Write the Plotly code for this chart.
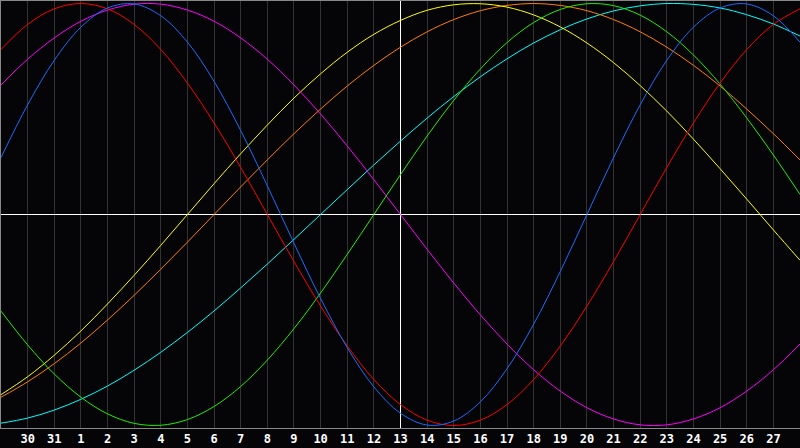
import plotly.graph_objects as go

# dias relativos al dia central (13)
offsets = list(range(-15, 16))
day_labels = ["29", "30", "31", "1", "2", "3", "4", "5", "6", "7", "8", "9", "10",
              "11", "12", "13", "14", "15", "16", "17", "18", "19", "20", "21",
              "22", "23", "24", "25", "26", "27", "28"]

# ciclos, un valor por dia
physical = [0.270, 0.520, 0.731, 0.888, 0.979, 0.998, 0.942, 0.817, 0.631, 0.398,
            0.136, -0.136, -0.398, -0.631, -0.817, -0.942, -0.998, -0.979, -0.888,
            -0.731, -0.520, -0.270, 0.0, 0.270, 0.520, 0.731, 0.888, 0.979, 0.998,
            0.942, 0.817]
emotional = [0.782, 0.901, 0.975, 1.0, 0.975, 0.901, 0.782, 0.623, 0.434, 0.223,
             0.0, -0.223, -0.434, -0.623, -0.782, -0.901, -0.975, -1.0, -0.975,
             -0.901, -0.782, -0.623, -0.434, -0.223, 0.0, 0.223, 0.434, 0.623,
             0.782, 0.901, 0.975]
intellectual = [-0.458, -0.618, -0.756, -0.866, -0.945, -0.990, -0.999, -0.972,
                -0.910, -0.815, -0.690, -0.541, -0.372, -0.189, 0.0, 0.189, 0.372,
                0.541, 0.690, 0.815, 0.910, 0.972, 0.999, 0.990, 0.945, 0.866,
                0.756, 0.618, 0.458, 0.282, 0.095]
intuitive = [0.614, 0.736, 0.837, 0.916, 0.969, 0.997, 0.997, 0.969, 0.916, 0.837,
             0.736, 0.614, 0.476, 0.325, 0.165, 0.0, -0.165, -0.325, -0.476,
             -0.614, -0.736, -0.837, -0.916, -0.969, -0.997, -0.997, -0.969,
             -0.916, -0.837, -0.736, -0.614]
aesthetic = [-0.854, -0.769, -0.667, -0.552, -0.424, -0.288, -0.146, 0.0, 0.146,
             0.288, 0.424, 0.552, 0.667, 0.769, 0.854, 0.920, 0.968, 0.994, 0.999,
             0.983, 0.946, 0.889, 0.813, 0.720, 0.611, 0.490, 0.357, 0.217, 0.073,
             -0.073, -0.217]
awareness = [-0.866, -0.793, -0.707, -0.609, -0.5, -0.383, -0.259, -0.131, 0.0,
             0.131, 0.259, 0.383, 0.5, 0.609, 0.707, 0.793, 0.866, 0.924, 0.966,
             0.991, 1.0, 0.991, 0.966, 0.924, 0.866, 0.793, 0.707, 0.609, 0.5,
             0.383, 0.259]
spiritual = [-0.989, -0.965, -0.927, -0.876, -0.813, -0.738, -0.653, -0.559, -0.457,
             -0.348, -0.235, -0.118, 0.0, 0.118, 0.235, 0.348, 0.457, 0.559, 0.653,
             0.738, 0.813, 0.876, 0.927, 0.965, 0.989, 1.0, 0.996, 0.979, 0.947,
             0.903, 0.846]

series = [
    ("Spiritual", spiritual, "#00ffff"),
    ("Awareness", awareness, "#ff8000"),
    ("Aesthetic", aesthetic, "#ffff00"),
    ("Intuitive", intuitive, "#ff00ff"),
    ("Intellectual", intellectual, "#22ee00"),
    ("Emotional", emotional, "#ff0000"),
    ("Physical", physical, "#1a6cff"),
]

fig = go.Figure()
for name, values, color in series:
    fig.add_trace(go.Scatter(x=offsets, y=values, name=name, mode="lines",
                             line=dict(color=color, width=1, shape="spline"),
                             hoverinfo="skip"))

fig.update_layout(
    width=800, height=448,
    margin=dict(l=1, r=0, t=1, b=20),
    paper_bgcolor="#050508",
    plot_bgcolor="#050508",
    showlegend=False,
)

fig.update_xaxes(
    range=[-15, 15],
    tickvals=offsets[1:-1],
    ticktext=day_labels[1:-1],
    tickfont=dict(family="DejaVu Sans Mono", size=12, color="white", weight="bold"),
    showgrid=True, gridcolor="#333333", gridwidth=1,
    zeroline=True, zerolinecolor="white", zerolinewidth=1,
    showline=True, linecolor="#888888", linewidth=1, mirror=True,
    ticks="", fixedrange=True,
)
fig.update_yaxes(
    range=[-1.012, 1.012],
    showticklabels=False, showgrid=False,
    zeroline=True, zerolinecolor="white", zerolinewidth=1,
    showline=True, linecolor="#888888", linewidth=1,
    ticks="", fixedrange=True,
)

# quitar el margen del body para que el grafico quede en la esquina
fig.write_html("out.html", config={"displayModeBar": False},
               post_script="document.body.style.margin='0';"
                           "document.body.style.overflow='hidden';")
